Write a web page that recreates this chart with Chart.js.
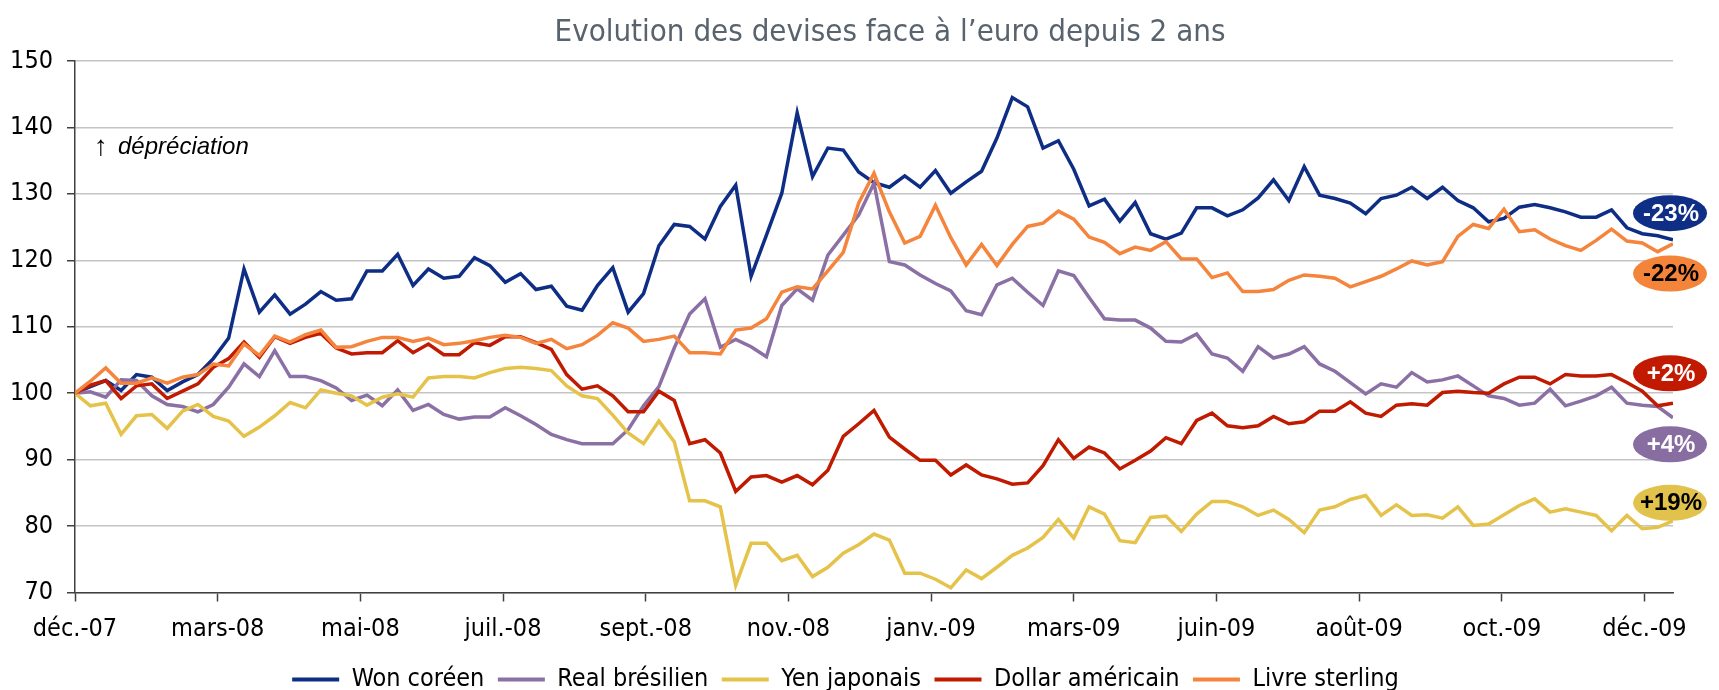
<!DOCTYPE html>
<html lang="fr">
<head>
<meta charset="utf-8">
<title>Evolution des devises face à l’euro depuis 2 ans</title>
<script src="https://cdn.jsdelivr.net/npm/chart.js@4.4.1/dist/chart.umd.min.js"></script>
<style>
  html, body { margin: 0; padding: 0; background: #fff; }
  #wrap { width: 1719px; height: 690px; position: relative; }
</style>
</head>
<body>
<div id="wrap"><canvas id="chart"></canvas></div>
<script>
const titleText = 'Evolution des devises face à l’euro depuis 2 ans';

// labels shown under the x axis, one every 65 days (weekly data)
const tickLabels = ['déc.-07', 'mars-08', 'mai-08', 'juil.-08', 'sept.-08', 'nov.-08',
  'janv.-09', 'mars-09', 'juin-09', 'août-09', 'oct.-09', 'déc.-09'];

// base 100 = déc.-07, one value per week
const wonCoreen = [100, 101.0, 101.9, 100.4, 102.8, 102.4, 100.4, 101.7, 102.8, 105.2,
  108.3, 118.7, 112.2, 114.8, 111.9, 113.4, 115.3, 114.0, 114.2, 118.4,
  118.4, 120.9, 116.2, 118.7, 117.3, 117.6, 120.4, 119.2, 116.7, 118.0,
  115.6, 116.1, 113.1, 112.5, 116.2, 118.9, 112.2, 115.0, 122.2, 125.4,
  125.1, 123.2, 128.1, 131.3, 117.6, 123.8, 130.1, 142.2, 132.6, 136.9,
  136.6, 133.3, 131.7, 131.0, 132.7, 131.0, 133.5, 130.1, 131.8, 133.4,
  138.4, 144.5, 143.1, 136.9, 138.0, 133.7, 128.2, 129.2, 125.9, 128.7,
  124.0, 123.2, 124.1, 127.9, 127.9, 126.7, 127.6, 129.4, 132.1, 129.0,
  134.1, 129.8, 129.3, 128.6, 127.0, 129.3, 129.8, 131.0, 129.3, 131.0,
  129.0, 127.9, 125.8, 126.3, 128.0, 128.4, 127.9, 127.3, 126.5, 126.5,
  127.6, 124.9, 124.0, 123.7, 123.1];

const realBresilien = [100, 100.2, 99.4, 102.0, 101.9, 99.6, 98.3, 98.0, 97.2, 98.3,
  100.9, 104.4, 102.5, 106.4, 102.5, 102.5, 101.9, 100.8, 98.9, 99.7,
  98.1, 100.5, 97.4, 98.3, 96.8, 96.1, 96.4, 96.4, 97.8, 96.6,
  95.3, 93.8, 93.0, 92.4, 92.4, 92.4, 94.5, 98.1, 101.0, 106.8,
  111.9, 114.2, 106.9, 108.1, 107.0, 105.5, 113.2, 115.7, 114.0, 120.8,
  123.8, 126.8, 131.6, 119.8, 119.3, 117.8, 116.5, 115.4, 112.4, 111.8,
  116.3, 117.3, 115.2, 113.2, 118.4, 117.7, 114.4, 111.2, 111.0, 111.0,
  109.8, 107.8, 107.7, 108.9, 105.9, 105.3, 103.3, 107.0, 105.3, 105.9,
  107.0, 104.4, 103.3, 101.6, 99.9, 101.4, 100.9, 103.1, 101.7, 102.0,
  102.6, 101.1, 99.6, 99.2, 98.2, 98.5, 100.6, 98.1, 98.8, 99.6,
  100.9, 98.5, 98.2, 98.0, 96.3];

const yenJaponais = [100, 98.1, 98.5, 93.8, 96.6, 96.8, 94.7, 97.3, 98.3, 96.5,
  95.8, 93.5, 94.9, 96.6, 98.6, 97.8, 100.5, 100.0, 99.6, 98.2,
  99.4, 99.9, 99.4, 102.3, 102.5, 102.5, 102.3, 103.1, 103.7, 103.9,
  103.7, 103.4, 101.1, 99.6, 99.2, 96.7, 94.0, 92.4, 95.8, 92.7,
  83.8, 83.8, 82.9, 71.1, 77.4, 77.4, 74.8, 75.6, 72.4, 73.8,
  75.9, 77.2, 78.8, 77.9, 72.9, 72.9, 72.0, 70.7, 73.4, 72.1,
  73.8, 75.6, 76.7, 78.3, 81.0, 78.2, 82.9, 81.8, 77.8, 77.5,
  81.3, 81.5, 79.2, 81.8, 83.7, 83.7, 82.9, 81.6, 82.4, 81.0,
  79.0, 82.4, 82.9, 84.0, 84.6, 81.6, 83.2, 81.6, 81.7, 81.2,
  82.9, 80.1, 80.3, 81.7, 83.1, 84.1, 82.1, 82.6, 82.1, 81.6,
  79.3, 81.6, 79.6, 79.8, 80.8];

const dollarAmericain = [100, 101.2, 101.9, 99.2, 101.1, 101.4, 99.2, 100.3, 101.4, 103.9,
  105.2, 107.7, 105.4, 108.5, 107.5, 108.4, 109.0, 106.8, 105.9, 106.1,
  106.1, 107.9, 106.1, 107.4, 105.8, 105.8, 107.6, 107.2, 108.5, 108.5,
  107.6, 106.6, 102.8, 100.6, 101.1, 99.6, 97.2, 97.2, 100.3, 98.9,
  92.4, 93.0, 91.0, 85.2, 87.4, 87.6, 86.6, 87.6, 86.2, 88.4,
  93.5, 95.4, 97.4, 93.4, 91.6, 89.9, 89.9, 87.7, 89.2, 87.7,
  87.1, 86.3, 86.5, 89.1, 93.0, 90.2, 91.9, 91.0, 88.6, 89.9,
  91.3, 93.3, 92.4, 95.9, 97.0, 95.1, 94.8, 95.1, 96.5, 95.4,
  95.7, 97.3, 97.3, 98.7, 97.0, 96.5, 98.2, 98.4, 98.2, 100.1,
  100.3, 100.1, 100.0, 101.4, 102.4, 102.4, 101.4, 102.8, 102.6, 102.6,
  102.8, 101.6, 100.3, 98.1, 98.5];

const livreSterling = [100, 101.8, 103.8, 101.5, 101.5, 102.3, 101.5, 102.4, 102.8, 104.4,
  104.1, 107.4, 105.7, 108.6, 107.7, 108.8, 109.5, 106.9, 107.0, 107.8,
  108.4, 108.4, 107.8, 108.3, 107.3, 107.5, 107.9, 108.4, 108.7, 108.4,
  107.5, 108.1, 106.7, 107.3, 108.7, 110.6, 109.8, 107.8, 108.1, 108.6,
  106.1, 106.1, 105.9, 109.5, 109.8, 111.2, 115.2, 116.0, 115.7, 118.4,
  121.2, 128.6, 133.1, 127.3, 122.6, 123.6, 128.3, 123.4, 119.3, 122.4,
  119.2, 122.4, 125.1, 125.6, 127.4, 126.2, 123.5, 122.7, 121.0, 122.0,
  121.5, 122.8, 120.2, 120.2, 117.4, 118.1, 115.3, 115.3, 115.6, 117.0,
  117.8, 117.6, 117.3, 116.0, 116.8, 117.6, 118.7, 119.9, 119.3, 119.8,
  123.6, 125.4, 124.8, 127.7, 124.3, 124.6, 123.2, 122.2, 121.5, 123.0,
  124.7, 122.9, 122.6, 121.3, 122.5];

// change badges on the right, placed at these y levels
const badgeLabels = ['-23%', '-22%', '+2%', '+4%', '+19%'];
const badgeLevels = [127.1, 118.0, 103.0, 92.3, 83.5];
const noteLevel = 137;

const NARROW = '"DejaVu Sans Condensed", "Liberation Sans Narrow", "Liberation Sans", sans-serif';
const SANS = '"Liberation Sans", Arial, sans-serif';
const TICK_STEP = 65 / 7;

const series = [
  { label: 'Won coréen', data: wonCoreen, color: '#0E2D84', order: 5 },
  { label: 'Real brésilien', data: realBresilien, color: '#8A70A4', order: 4 },
  { label: 'Yen japonais', data: yenJaponais, color: '#E5C34A', order: 3 },
  { label: 'Dollar américain', data: dollarAmericain, color: '#C01A00', order: 2 },
  { label: 'Livre sterling', data: livreSterling, color: '#F5843C', order: 1 },
];
const badgeColors = ['#0F2E86', '#F4843A', '#C11A00', '#886DA1', '#E1C24D'];
const badgeTextColors = ['#fff', '#000', '#fff', '#fff', '#000'];

const annotations = {
  id: 'annotations',
  afterLayout(chart) {
    // the original legend sits a bit right of the canvas middle
    chart.legend.left += 9;
    chart.legend.right += 9;
  },
  afterDraw(chart) {
    const { ctx, chartArea, scales: { y } } = chart;
    ctx.save();
    // title, centred a little right of the plot middle as in the original
    ctx.fillStyle = '#58636E';
    ctx.textAlign = 'center';
    ctx.textBaseline = 'alphabetic';
    ctx.font = `31px ${NARROW}`;
    ctx.fillText(titleText, 890, 41);

    ctx.fillStyle = '#000';
    ctx.textBaseline = 'middle';
    ctx.textAlign = 'left';
    const ny = y.getPixelForValue(noteLevel);
    ctx.font = `28px ${SANS}`;
    ctx.fillText('↑', chartArea.left + 19, ny);
    ctx.font = `italic 24px ${SANS}`;
    ctx.fillText('dépréciation', chartArea.left + 43, ny);

    ctx.textAlign = 'center';
    ctx.font = `bold 24px ${SANS}`;
    badgeLabels.forEach((label, k) => {
      const cx = chartArea.right - 3;
      const cy = y.getPixelForValue(badgeLevels[k]);
      ctx.beginPath();
      ctx.ellipse(cx, cy, 37, 18, 0, 0, Math.PI * 2);
      ctx.fillStyle = badgeColors[k];
      ctx.fill();
      ctx.fillStyle = badgeTextColors[k];
      ctx.fillText(label, cx + 1, cy + 1);
    });
    ctx.restore();
  },
};

new Chart(document.getElementById('chart'), {
  type: 'line',
  data: {
    datasets: series.map((s) => ({
      label: s.label,
      data: s.data.map((v, i) => ({ x: i, y: v })),
      borderColor: s.color,
      backgroundColor: s.color,
      borderWidth: 3.5,
      pointRadius: 0,
      tension: 0,
      order: s.order,
    })),
  },
  options: {
    responsive: true,
    maintainAspectRatio: false,
    animation: false,
    devicePixelRatio: 1,
    layout: { padding: { top: 61, right: 46, bottom: -12, left: 0 } },
    scales: {
      x: {
        type: 'linear',
        min: 0,
        max: wonCoreen.length - 1,
        afterBuildTicks: (scale) => {
          scale.ticks = tickLabels.map((_, k) => ({ value: k * TICK_STEP }));
        },
        afterFit: (scale) => { scale.height = 61; },
        ticks: {
          autoSkip: false,
          maxRotation: 0,
          padding: 13,
          color: '#000',
          font: { family: NARROW, size: 25 },
          callback: (value, index) => tickLabels[index],
        },
        grid: { drawOnChartArea: false, tickLength: 9, tickColor: '#404040', tickWidth: 1.5 },
        border: { color: '#404040', width: 1.5 },
      },
      y: {
        min: 70,
        max: 150,
        afterFit: (scale) => { scale.width = 75; },
        ticks: {
          stepSize: 10,
          padding: 14,
          color: '#000',
          font: { family: NARROW, size: 25 },
        },
        grid: { color: '#C4C4C4', lineWidth: 1.5, tickLength: 8, tickColor: '#404040', tickWidth: 1.5 },
        border: { color: '#404040', width: 1.5 },
      },
    },
    plugins: {
      title: { display: false },
      legend: {
        position: 'bottom',
        labels: {
          boxWidth: 47,
          boxHeight: 4,
          padding: 13.5,
          color: '#000',
          font: { family: NARROW, size: 25 },
          sort: (a, b) => a.datasetIndex - b.datasetIndex,
          generateLabels: (chart) => Chart.defaults.plugins.legend.labels.generateLabels(chart)
            .map((item) => ({ ...item, lineWidth: 0 })),
        },
      },
      tooltip: { enabled: false },
    },
  },
  plugins: [annotations],
});
</script>
</body>
</html>
